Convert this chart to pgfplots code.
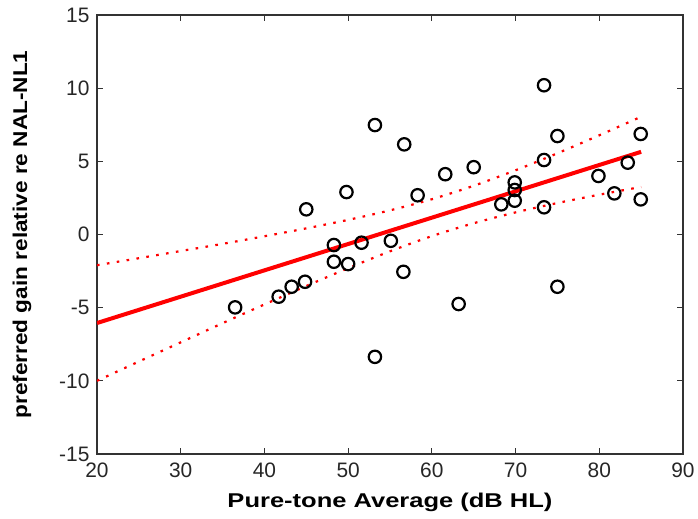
\documentclass[border=0pt]{standalone}
\usepackage{fontspec}
\setmainfont{Liberation Sans}
\usepackage{graphicx}
\usepackage{pgfplots}
\pgfplotsset{compat=1.18}
\pgfplotstableread{
x y
36.5 -4.98
41.7 -4.25
43.25 -3.57
44.85 -3.23
45.0 1.72
48.3 -0.72
48.3 -1.86
50.0 -2.02
49.8 2.90
51.6 -0.56
53.2 7.48
53.2 -8.36
55.1 -0.43
56.6 -2.55
56.7 6.16
58.3 2.68
61.6 4.12
63.2 -4.75
65.0 4.60
68.3 2.06
69.9 3.56
69.9 3.04
69.9 2.31
73.4 10.20
73.4 5.09
73.4 1.86
75.0 6.73
75.0 -3.57
79.9 4.00
81.8 2.81
83.4 4.91
84.95 6.87
84.95 2.40
}\pts
\pgfplotstableread{
x up lo
20 -2.10 -10.00
25 -1.62 -8.68
30 -1.13 -7.37
35 -0.64 -6.06
40 -0.12 -4.78
45 0.42 -3.52
50 1.00 -2.30
55 1.65 -1.15
60 2.41 -0.11
65 3.33 0.77
70 4.39 1.51
75 5.55 2.15
80 6.78 2.72
85 8.05 3.25
}\band
\begin{document}
\begin{tikzpicture}
\begin{axis}[
  scale only axis, width=586bp, height=439bp,
  xmin=20, xmax=90, ymin=-15, ymax=15,
  xtick={20,30,40,50,60,70,80,90},
  ytick={-15,-10,-5,0,5,10,15},
  xticklabels={20,30,40,50,60,70,80,90},
  yticklabels={-15,-10,-5,0,5,10,15},
  tick align=inside, major tick length=6bp,
  tick style={line width=1.2bp, color=black!80},
  axis line style={line width=1.5bp, black!80},
  ticklabel style={font=\fontsize{21}{21}\selectfont, text=black!85},
  xticklabel style={yshift=-5bp},
  yticklabel style={xshift=-4bp},
  xlabel={\resizebox{325bp}{\height}{\bfseries Pure-tone Average (dB HL)}},
  ylabel={\resizebox{368bp}{\height}{\bfseries preferred gain relative re NAL-NL1}},
  label style={font=\fontsize{20}{20}\selectfont},
  xlabel style={at={(axis description cs:0.5,0)}, anchor=center, yshift=-48bp},
  ylabel style={at={(axis description cs:0,0.5)}, anchor=center, rotate=0, yshift=75bp},
]
\addplot[red, line width=2.2bp, dash pattern=on 2.6bp off 7.4bp, smooth] table[x=x, y=up] {\band};
\addplot[red, line width=2.2bp, dash pattern=on 2.6bp off 7.4bp, smooth] table[x=x, y=lo] {\band};
\addplot[red, line width=4bp] coordinates {(20,-6.05) (85,5.65)};
\addplot[only marks, mark=o, mark size=6.2bp, mark options={line width=2.2bp, black}] table[x=x, y=y] {\pts};
\coordinate (O) at (rel axis cs:0,0);
\end{axis}
\path[use as bounding box] ([shift={(-97bp,-65bp)}]O) rectangle ([shift={(601bp,454bp)}]O);
\end{tikzpicture}
\end{document}
